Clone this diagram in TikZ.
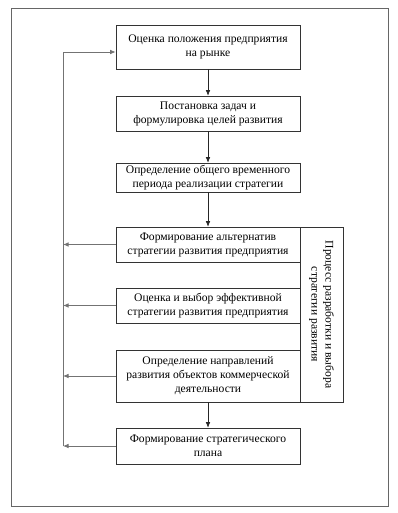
\documentclass[tikz,border=0pt]{standalone}
\usepackage{fontspec}
\setmainfont{Liberation Serif}
\usetikzlibrary{arrows.meta}

\tikzset{
  stage/.style={draw=black!80, line width=0.6pt, minimum width=184pt, align=center,
    inner sep=2pt, font=\fontsize{11.6}{14}\selectfont},
  feed/.style={draw=black!55, line width=0.8pt, -{Latex[length=5.5pt,width=4.5pt]}},
  down/.style={draw=black!85, line width=0.6pt, -{Latex[length=5.5pt,width=4.5pt]}}
}

\begin{document}
\begin{tikzpicture}[x=1pt, y=-1pt]
    \useasboundingbox (0,0) rectangle (398,513);
    % outer frame
    \draw[black!60, line width=0.8pt] (11,8) rectangle (388,506);

    % main chain
    \node[stage, minimum height=44pt] (b1) at (208,47) {Оценка положения  предприятия\\на рынке};
    \node[stage, minimum height=35pt] (b2) at (208,113.5) {Постановка задач и\\формулировка целей развития};
    \node[stage, minimum height=29pt] (b3) at (208,177.5) {Определение общего временного\\периода реализации  стратегии};
    \node[stage, minimum height=35pt] (b4) at (208,244.5) {Формирование альтернатив\\стратегии развития предприятия};
    \node[stage, minimum height=35pt] (b5) at (208,305.5) {Оценка и выбор эффективной\\стратегии развития предприятия};
    \node[stage, minimum height=52pt] (b6) at (208,376) {Определение направлений\\развития объектов коммерческой\\деятельности};
    \node[stage, minimum height=36pt] (b7) at (208,446) {Формирование стратегического\\плана};

    % side label
    \node[stage, rotate=-90, minimum width=175pt, minimum height=43pt] (side) at (321.5,314.5)
        {Процесс разработки и выбора\\стратегии развития};

    \draw[down] (b1) -- (b2);
    \draw[down] (b2) -- (b3);
    \draw[down] (b3) -- (b4);
    \draw[down] (b6) -- (b7);

    % feedback loop
    \coordinate (top) at (63,52);
    \coordinate (bot) at (63,446);
    \draw[feed] (b4.west) -- (b4.west -| top);
    \draw[feed] (b5.west) -- (b5.west -| top);
    \draw[feed] (b6.west) -- (b6.west -| top);
    \draw[feed] (b7.west) -- (bot);
    \draw[feed] (bot) -- (top) -- (top -| b1.west);
\end{tikzpicture}
\end{document}
